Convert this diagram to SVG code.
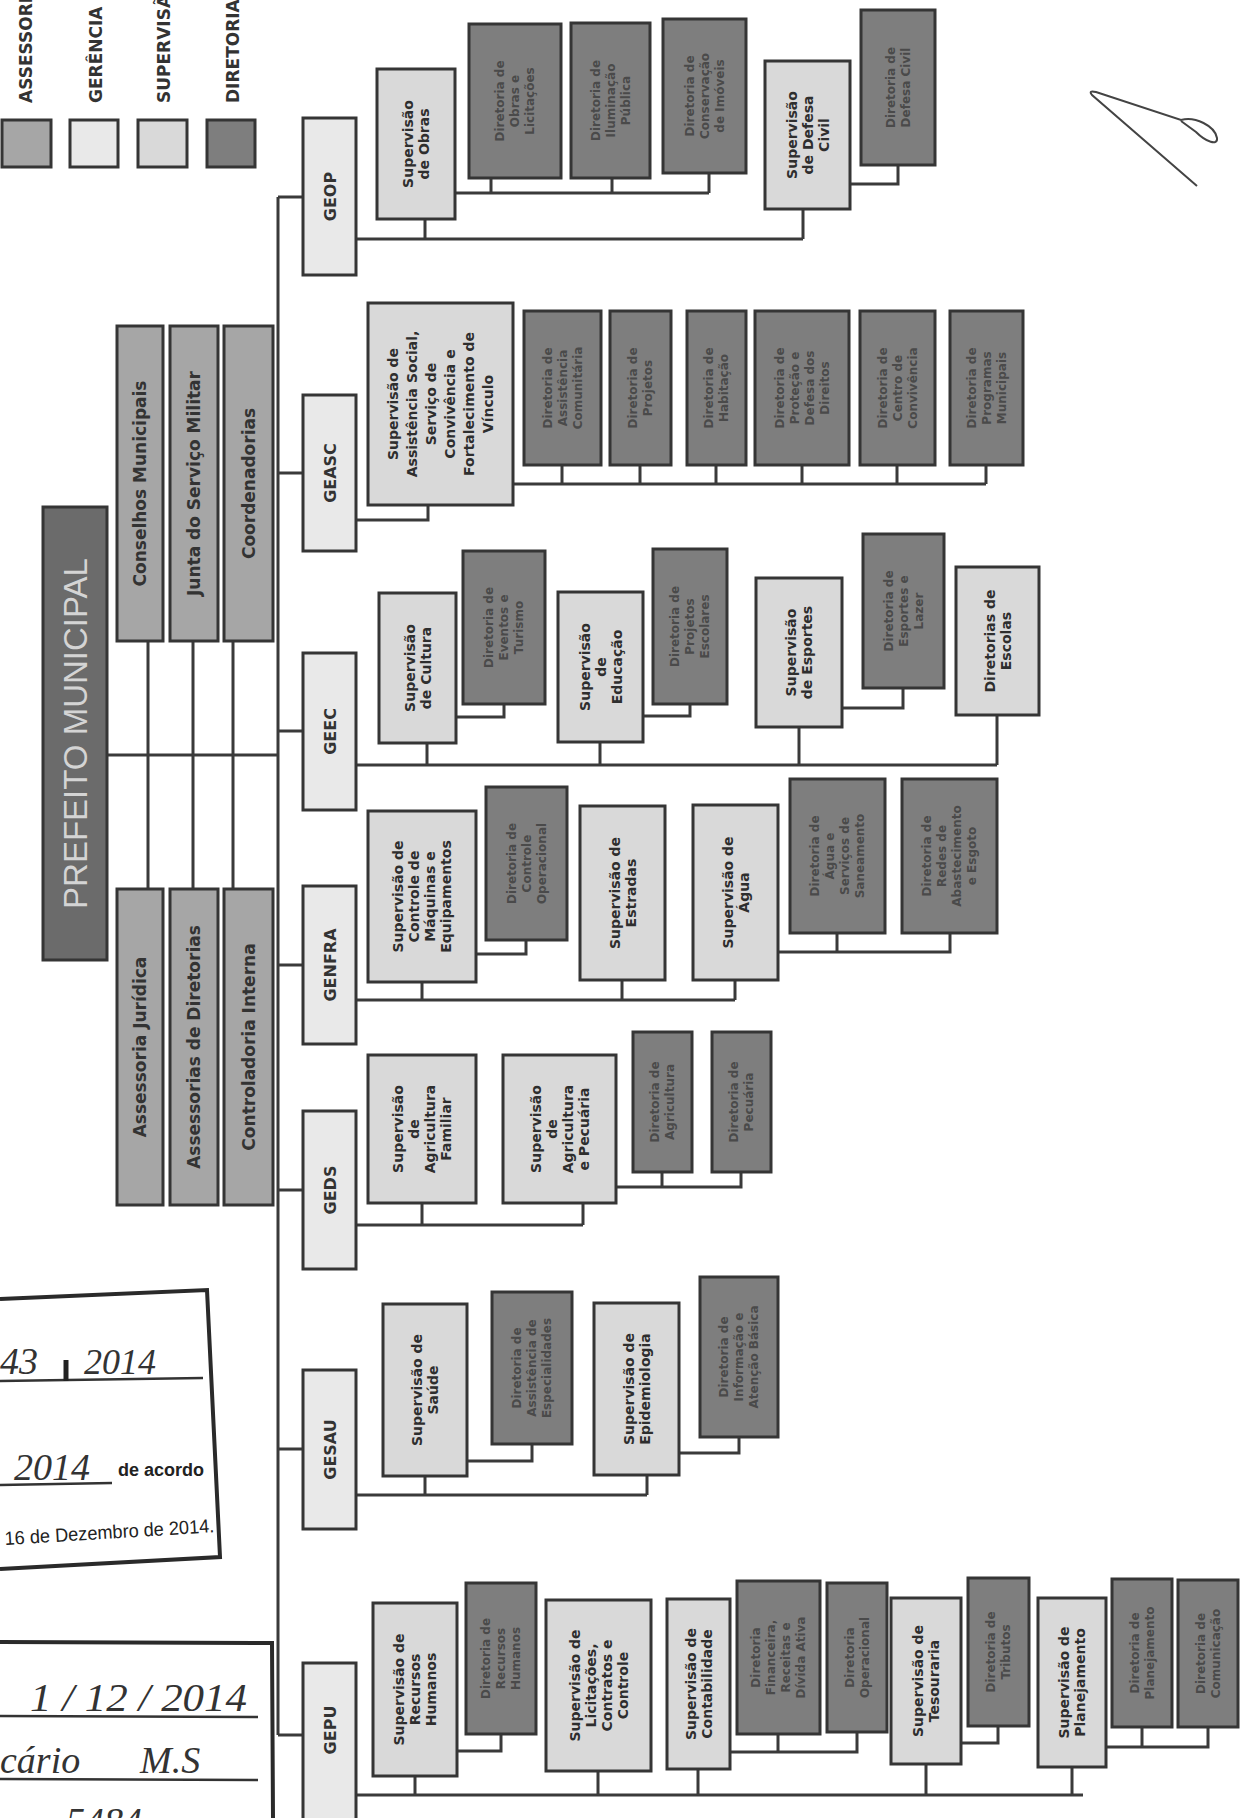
<svg xmlns="http://www.w3.org/2000/svg" width="1245" height="1818" viewBox="0 0 1245 1818">
<style>
.box{stroke:#353535;stroke-width:3}
.a{fill:#a6a6a6}.g{fill:#e9e9e9}.s{fill:#d9d9d9}.d{fill:#7e7e7e}.p{fill:#6b6b6b}
.t{font-family:"DejaVu Sans",sans-serif;font-weight:bold;text-anchor:middle}
.ts{font-size:14px;fill:#2e2e2e}
.td{font-size:12px;fill:#4a4a4a}
.ta{font-size:17px;fill:#333}
.tg{font-size:16px;fill:#333}
.lg{font-family:"DejaVu Sans",sans-serif;font-weight:bold;font-size:17px;fill:#333}
.ln{fill:none;stroke:#3a3a3a;stroke-width:3}
.st{fill:none;stroke:#2a2a2a;stroke-width:4}
.ul{fill:none;stroke:#333;stroke-width:2.5}
.hw{font-family:"Liberation Serif",serif;font-style:italic;fill:#333}
.pr{font-family:"Liberation Sans",sans-serif;font-weight:bold;fill:#222}
</style>
<rect width="1245" height="1818" fill="#fff"/>

<g id="legend">
<rect class="box a" x="2" y="120" width="49" height="47"/>
<rect class="box g" x="70" y="120" width="48" height="47"/>
<rect class="box s" x="138" y="120" width="49" height="47"/>
<rect class="box d" x="207" y="120" width="48" height="47"/>
<text class="lg" transform="translate(32,103) rotate(-90)">ASSESSORIA</text>
<text class="lg" transform="translate(102,103) rotate(-90)">GERÊNCIA</text>
<text class="lg" transform="translate(170,103) rotate(-90)">SUPERVISÃO</text>
<text class="lg" transform="translate(239,103) rotate(-90)">DIRETORIA</text>
</g>

<g id="connectors">
<path class="ln" d="M278,197 V1735 M278,197 H303 M278,473 H303 M278,731 H303 M278,965 H303 M278,1190 H303 M278,1449 H303 M278,1735 H303"/>
<path class="ln" d="M107,755 H278 M148,641 V889 M193,641 V889 M233,641 V889"/>
<path class="ln" d="M356,239 H803 M425,219 V239 M803,209 V239 M455,193 H709 M491,178 V193 M612,178 V193 M709,173 V193 M850,184 H898 V165"/>
<path class="ln" d="M356,520 H428 V505 M513,484 H986 M562,465 V484 M640,465 V484 M716,465 V484 M802,465 V484 M897,465 V484 M986,465 V484"/>
<path class="ln" d="M356,765 H997 M427,743 V765 M600,742 V765 M799,727 V765 M997,715 V765 M456,717 H504 V704 M643,716 H690 V704 M842,708 H903 V688"/>
<path class="ln" d="M356,1000 H735 M422,982 V1000 M622,980 V1000 M735,980 V1000 M476,954 H526 V940 M778,952 H950 V933 M837,933 V952"/>
<path class="ln" d="M356,1225 H583 M422,1203 V1225 M583,1203 V1225 M616,1187 H741 V1172 M662,1172 V1187"/>
<path class="ln" d="M356,1495 H647 M425,1476 V1495 M647,1475 V1495 M467,1461 H532 V1444 M679,1453 H739 V1437"/>
<path class="ln" d="M356,1795 H1083 M415,1776 V1795 M598,1771 V1795 M698,1769 V1795 M926,1764 V1795 M1072,1767 V1795 M457,1751 H501 V1734 M730,1752 H857 V1732 M778,1734 V1752 M961,1743 H998 V1726 M1106,1747 H1208 V1727 M1142,1727 V1747"/>
</g>

<g id="prefeito">
<rect class="box p" x="43" y="507" width="64" height="453"/>
<text transform="translate(75,733.5) rotate(-90)" style="font-family:'Liberation Sans',sans-serif;font-size:33px;fill:#d4d4d4;text-anchor:middle"><tspan x="0" y="12">PREFEITO MUNICIPAL</tspan></text>
</g>

<g id="conselhos"><rect class="box a" x="117" y="326" width="46" height="315"/><text class="t ta" transform="translate(140,483.5) rotate(-90)"><tspan x="0" y="6">Conselhos Municipais</tspan></text></g>
<g id="junta"><rect class="box a" x="170" y="326" width="48" height="315"/><text class="t ta" transform="translate(194,483.5) rotate(-90)"><tspan x="0" y="6">Junta do Serviço Militar</tspan></text></g>
<g id="coordenadorias"><rect class="box a" x="224" y="326" width="49" height="315"/><text class="t ta" transform="translate(248.5,483.5) rotate(-90)"><tspan x="0" y="6">Coordenadorias</tspan></text></g>
<g id="juridica"><rect class="box a" x="117" y="889" width="46" height="316"/><text class="t ta" transform="translate(140,1047) rotate(-90)"><tspan x="0" y="6">Assessoria Jurídica</tspan></text></g>
<g id="ass_diretorias"><rect class="box a" x="170" y="889" width="48" height="316"/><text class="t ta" transform="translate(194,1047) rotate(-90)"><tspan x="0" y="6">Assessorias de Diretorias</tspan></text></g>
<g id="controladoria"><rect class="box a" x="224" y="889" width="49" height="316"/><text class="t ta" transform="translate(248.5,1047) rotate(-90)"><tspan x="0" y="6">Controladoria Interna</tspan></text></g>

<g id="geop"><rect class="box g" x="303" y="118" width="53" height="157"/><text class="t tg" transform="translate(329.5,196.5) rotate(-90)"><tspan x="0" y="6">GEOP</tspan></text></g>
<g id="geasc"><rect class="box g" x="303" y="395" width="53" height="156"/><text class="t tg" transform="translate(329.5,473) rotate(-90)"><tspan x="0" y="6">GEASC</tspan></text></g>
<g id="geec"><rect class="box g" x="303" y="653" width="53" height="157"/><text class="t tg" transform="translate(329.5,731.5) rotate(-90)"><tspan x="0" y="6">GEEC</tspan></text></g>
<g id="genfra"><rect class="box g" x="303" y="886" width="53" height="158"/><text class="t tg" transform="translate(329.5,965) rotate(-90)"><tspan x="0" y="6">GENFRA</tspan></text></g>
<g id="geds"><rect class="box g" x="303" y="1111" width="53" height="158"/><text class="t tg" transform="translate(329.5,1190) rotate(-90)"><tspan x="0" y="6">GEDS</tspan></text></g>
<g id="gesau"><rect class="box g" x="303" y="1370" width="53" height="159"/><text class="t tg" transform="translate(329.5,1449.5) rotate(-90)"><tspan x="0" y="6">GESAU</tspan></text></g>
<g id="gepu"><rect class="box g" x="303" y="1663" width="53" height="165"/><text class="t tg" transform="translate(329.5,1730) rotate(-90)"><tspan x="0" y="6">GEPU</tspan></text></g>

<!-- GEOP -->
<g id="sup_obras"><rect class="box s" x="377" y="69" width="78" height="150"/><text class="t ts" transform="translate(416,144) rotate(-90)"><tspan x="0" y="-3">Supervisão</tspan><tspan x="0" y="13">de Obras</tspan></text></g>
<g id="dir_obras"><rect class="box d" x="469" y="24" width="92" height="154"/><text class="t td" transform="translate(515,101) rotate(-90)"><tspan x="0" y="-11">Diretoria de</tspan><tspan x="0" y="4">Obras e</tspan><tspan x="0" y="19">Licitações</tspan></text></g>
<g id="dir_iluminacao"><rect class="box d" x="571" y="23" width="79" height="155"/><text class="t td" transform="translate(610.5,100.5) rotate(-90)"><tspan x="0" y="-11">Diretoria de</tspan><tspan x="0" y="4">Iluminação</tspan><tspan x="0" y="19">Pública</tspan></text></g>
<g id="dir_conservacao"><rect class="box d" x="663" y="19" width="83" height="154"/><text class="t td" transform="translate(704.5,96) rotate(-90)"><tspan x="0" y="-11">Diretoria de</tspan><tspan x="0" y="4">Conservação</tspan><tspan x="0" y="19">de Imóveis</tspan></text></g>
<g id="sup_defesa"><rect class="box s" x="765" y="61" width="85" height="148"/><text class="t ts" transform="translate(807.5,135) rotate(-90)"><tspan x="0" y="-11">Supervisão</tspan><tspan x="0" y="5">de Defesa</tspan><tspan x="0" y="21">Civil</tspan></text></g>
<g id="dir_defesa"><rect class="box d" x="861" y="10" width="74" height="155"/><text class="t td" transform="translate(898,87.5) rotate(-90)"><tspan x="0" y="-3.5">Diretoria de</tspan><tspan x="0" y="11.5">Defesa Civil</tspan></text></g>

<!-- GEASC -->
<g id="sup_assistencia"><rect class="box s" x="368" y="303" width="145" height="202"/><text class="t ts" transform="translate(440.5,404) rotate(-90)"><tspan x="0" y="-42.5">Supervisão de</tspan><tspan x="0" y="-23.5">Assistência Social,</tspan><tspan x="0" y="-4.5">Serviço de</tspan><tspan x="0" y="14.5">Convivência e</tspan><tspan x="0" y="33.5">Fortalecimento de</tspan><tspan x="0" y="52.5">Vínculo</tspan></text></g>
<g id="dir_assist_com"><rect class="box d" x="524" y="311" width="77" height="154"/><text class="t td" transform="translate(562.5,388) rotate(-90)"><tspan x="0" y="-11">Diretoria de</tspan><tspan x="0" y="4">Assistência</tspan><tspan x="0" y="19">Comunitária</tspan></text></g>
<g id="dir_projetos"><rect class="box d" x="610" y="311" width="61" height="154"/><text class="t td" transform="translate(640.5,388) rotate(-90)"><tspan x="0" y="-3.5">Diretoria de</tspan><tspan x="0" y="11.5">Projetos</tspan></text></g>
<g id="dir_habitacao"><rect class="box d" x="687" y="311" width="59" height="154"/><text class="t td" transform="translate(716.5,388) rotate(-90)"><tspan x="0" y="-3.5">Diretoria de</tspan><tspan x="0" y="11.5">Habitação</tspan></text></g>
<g id="dir_protecao"><rect class="box d" x="755" y="311" width="94" height="154"/><text class="t td" transform="translate(802,388) rotate(-90)"><tspan x="0" y="-18.5">Diretoria de</tspan><tspan x="0" y="-3.5">Proteção e</tspan><tspan x="0" y="11.5">Defesa dos</tspan><tspan x="0" y="26.5">Direitos</tspan></text></g>
<g id="dir_convivencia"><rect class="box d" x="860" y="311" width="75" height="154"/><text class="t td" transform="translate(897.5,388) rotate(-90)"><tspan x="0" y="-11">Diretoria de</tspan><tspan x="0" y="4">Centro de</tspan><tspan x="0" y="19">Convivência</tspan></text></g>
<g id="dir_programas"><rect class="box d" x="950" y="311" width="73" height="154"/><text class="t td" transform="translate(986.5,388) rotate(-90)"><tspan x="0" y="-11">Diretoria de</tspan><tspan x="0" y="4">Programas</tspan><tspan x="0" y="19">Municipais</tspan></text></g>

<!-- GEEC -->
<g id="sup_cultura"><rect class="box s" x="379" y="593" width="77" height="150"/><text class="t ts" transform="translate(417.5,668) rotate(-90)"><tspan x="0" y="-3">Supervisão</tspan><tspan x="0" y="13">de Cultura</tspan></text></g>
<g id="dir_eventos"><rect class="box d" x="463" y="551" width="82" height="153"/><text class="t td" transform="translate(504,627.5) rotate(-90)"><tspan x="0" y="-11">Diretoria de</tspan><tspan x="0" y="4">Eventos e</tspan><tspan x="0" y="19">Turismo</tspan></text></g>
<g id="sup_educacao"><rect class="box s" x="558" y="592" width="85" height="150"/><text class="t ts" transform="translate(600.5,667) rotate(-90)"><tspan x="0" y="-11">Supervisão</tspan><tspan x="0" y="5">de</tspan><tspan x="0" y="21">Educação</tspan></text></g>
<g id="dir_proj_escolares"><rect class="box d" x="653" y="549" width="74" height="155"/><text class="t td" transform="translate(690,626.5) rotate(-90)"><tspan x="0" y="-11">Diretoria de</tspan><tspan x="0" y="4">Projetos</tspan><tspan x="0" y="19">Escolares</tspan></text></g>
<g id="sup_esportes"><rect class="box s" x="756" y="578" width="86" height="149"/><text class="t ts" transform="translate(799,652.5) rotate(-90)"><tspan x="0" y="-3">Supervisão</tspan><tspan x="0" y="13">de Esportes</tspan></text></g>
<g id="dir_esportes"><rect class="box d" x="863" y="534" width="81" height="154"/><text class="t td" transform="translate(903.5,611) rotate(-90)"><tspan x="0" y="-11">Diretoria de</tspan><tspan x="0" y="4">Esportes e</tspan><tspan x="0" y="19">Lazer</tspan></text></g>
<g id="dir_escolas"><rect class="box s" x="956" y="567" width="83" height="148"/><text class="t ts" transform="translate(997.5,641) rotate(-90)"><tspan x="0" y="-3">Diretorias de</tspan><tspan x="0" y="13">Escolas</tspan></text></g>

<!-- GENFRA -->
<g id="sup_maquinas"><rect class="box s" x="368" y="811" width="108" height="171"/><text class="t ts" transform="translate(422,896.5) rotate(-90)"><tspan x="0" y="-19">Supervisão de</tspan><tspan x="0" y="-3">Controle de</tspan><tspan x="0" y="13">Máquinas e</tspan><tspan x="0" y="29">Equipamentos</tspan></text></g>
<g id="dir_controle"><rect class="box d" x="486" y="787" width="81" height="153"/><text class="t td" transform="translate(526.5,863.5) rotate(-90)"><tspan x="0" y="-11">Diretoria de</tspan><tspan x="0" y="4">Controle</tspan><tspan x="0" y="19">Operacional</tspan></text></g>
<g id="sup_estradas"><rect class="box s" x="580" y="806" width="85" height="174"/><text class="t ts" transform="translate(622.5,893) rotate(-90)"><tspan x="0" y="-3">Supervisão de</tspan><tspan x="0" y="13">Estradas</tspan></text></g>
<g id="sup_agua"><rect class="box s" x="693" y="805" width="85" height="175"/><text class="t ts" transform="translate(735.5,892.5) rotate(-90)"><tspan x="0" y="-3">Supervisão de</tspan><tspan x="0" y="13">Água</tspan></text></g>
<g id="dir_agua"><rect class="box d" x="790" y="779" width="95" height="154"/><text class="t td" transform="translate(837.5,856) rotate(-90)"><tspan x="0" y="-18.5">Diretoria de</tspan><tspan x="0" y="-3.5">Água e</tspan><tspan x="0" y="11.5">Serviços de</tspan><tspan x="0" y="26.5">Saneamento</tspan></text></g>
<g id="dir_redes"><rect class="box d" x="902" y="779" width="95" height="154"/><text class="t td" transform="translate(949.5,856) rotate(-90)"><tspan x="0" y="-18.5">Diretoria de</tspan><tspan x="0" y="-3.5">Redes de</tspan><tspan x="0" y="11.5">Abastecimento</tspan><tspan x="0" y="26.5">e Esgoto</tspan></text></g>

<!-- GEDS -->
<g id="sup_agr_familiar"><rect class="box s" x="368" y="1055" width="108" height="148"/><text class="t ts" transform="translate(422,1129) rotate(-90)"><tspan x="0" y="-19">Supervisão</tspan><tspan x="0" y="-3">de</tspan><tspan x="0" y="13">Agricultura</tspan><tspan x="0" y="29">Familiar</tspan></text></g>
<g id="sup_agr_pecuaria"><rect class="box s" x="503" y="1055" width="113" height="148"/><text class="t ts" transform="translate(559.5,1129) rotate(-90)"><tspan x="0" y="-19">Supervisão</tspan><tspan x="0" y="-3">de</tspan><tspan x="0" y="13">Agricultura</tspan><tspan x="0" y="29">e Pecuária</tspan></text></g>
<g id="dir_agricultura"><rect class="box d" x="633" y="1032" width="59" height="140"/><text class="t td" transform="translate(662.5,1102) rotate(-90)"><tspan x="0" y="-3.5">Diretoria de</tspan><tspan x="0" y="11.5">Agricultura</tspan></text></g>
<g id="dir_pecuaria"><rect class="box d" x="712" y="1032" width="59" height="140"/><text class="t td" transform="translate(741.5,1102) rotate(-90)"><tspan x="0" y="-3.5">Diretoria de</tspan><tspan x="0" y="11.5">Pecuária</tspan></text></g>

<!-- GESAU -->
<g id="sup_saude"><rect class="box s" x="383" y="1304" width="84" height="172"/><text class="t ts" transform="translate(425,1390) rotate(-90)"><tspan x="0" y="-3">Supervisão de</tspan><tspan x="0" y="13">Saúde</tspan></text></g>
<g id="dir_saude"><rect class="box d" x="492" y="1292" width="80" height="152"/><text class="t td" transform="translate(532,1368) rotate(-90)"><tspan x="0" y="-11">Diretoria de</tspan><tspan x="0" y="4">Assistência de</tspan><tspan x="0" y="19">Especialidades</tspan></text></g>
<g id="sup_epidemiologia"><rect class="box s" x="594" y="1303" width="85" height="172"/><text class="t ts" transform="translate(636.5,1389) rotate(-90)"><tspan x="0" y="-3">Supervisão de</tspan><tspan x="0" y="13">Epidemiologia</tspan></text></g>
<g id="dir_atencao"><rect class="box d" x="700" y="1277" width="78" height="160"/><text class="t td" transform="translate(739,1357) rotate(-90)"><tspan x="0" y="-11">Diretoria de</tspan><tspan x="0" y="4">Informação e</tspan><tspan x="0" y="19">Atenção Básica</tspan></text></g>

<!-- GEPU -->
<g id="sup_rh"><rect class="box s" x="373" y="1603" width="84" height="173"/><text class="t ts" transform="translate(415,1689.5) rotate(-90)"><tspan x="0" y="-11">Supervisão de</tspan><tspan x="0" y="5">Recursos</tspan><tspan x="0" y="21">Humanos</tspan></text></g>
<g id="dir_rh"><rect class="box d" x="466" y="1583" width="70" height="151"/><text class="t td" transform="translate(501,1658.5) rotate(-90)"><tspan x="0" y="-11">Diretoria de</tspan><tspan x="0" y="4">Recursos</tspan><tspan x="0" y="19">Humanos</tspan></text></g>
<g id="sup_licitacoes"><rect class="box s" x="546" y="1600" width="105" height="171"/><text class="t ts" transform="translate(598.5,1685.5) rotate(-90)"><tspan x="0" y="-19">Supervisão de</tspan><tspan x="0" y="-3">Licitações,</tspan><tspan x="0" y="13">Contratos e</tspan><tspan x="0" y="29">Controle</tspan></text></g>
<g id="sup_contabilidade"><rect class="box s" x="667" y="1599" width="63" height="170"/><text class="t ts" transform="translate(698.5,1684) rotate(-90)"><tspan x="0" y="-3">Supervisão de</tspan><tspan x="0" y="13">Contabilidade</tspan></text></g>
<g id="dir_financeira"><rect class="box d" x="737" y="1581" width="83" height="153"/><text class="t td" transform="translate(778.5,1657.5) rotate(-90)"><tspan x="0" y="-18.5">Diretoria</tspan><tspan x="0" y="-3.5">Financeira,</tspan><tspan x="0" y="11.5">Receitas e</tspan><tspan x="0" y="26.5">Dívida Ativa</tspan></text></g>
<g id="dir_operacional"><rect class="box d" x="827" y="1583" width="60" height="149"/><text class="t td" transform="translate(857,1657.5) rotate(-90)"><tspan x="0" y="-3.5">Diretoria</tspan><tspan x="0" y="11.5">Operacional</tspan></text></g>
<g id="sup_tesouraria"><rect class="box s" x="891" y="1598" width="70" height="166"/><text class="t ts" transform="translate(926,1681) rotate(-90)"><tspan x="0" y="-3">Supervisão de</tspan><tspan x="0" y="13">Tesouraria</tspan></text></g>
<g id="dir_tributos"><rect class="box d" x="968" y="1578" width="61" height="148"/><text class="t td" transform="translate(998.5,1652) rotate(-90)"><tspan x="0" y="-3.5">Diretoria de</tspan><tspan x="0" y="11.5">Tributos</tspan></text></g>
<g id="sup_planejamento"><rect class="box s" x="1038" y="1598" width="68" height="169"/><text class="t ts" transform="translate(1072,1682.5) rotate(-90)"><tspan x="0" y="-3">Supervisão de</tspan><tspan x="0" y="13">Planejamento</tspan></text></g>
<g id="dir_planejamento"><rect class="box d" x="1112" y="1579" width="60" height="148"/><text class="t td" transform="translate(1142,1653) rotate(-90)"><tspan x="0" y="-3.5">Diretoria de</tspan><tspan x="0" y="11.5">Planejamento</tspan></text></g>
<g id="dir_comunicacao"><rect class="box d" x="1178" y="1580" width="60" height="147"/><text class="t td" transform="translate(1208,1653.5) rotate(-90)"><tspan x="0" y="-3.5">Diretoria de</tspan><tspan x="0" y="11.5">Comunicação</tspan></text></g>

<!-- stamps -->
<g id="stamp1">
<path class="st" d="M0,1299 L207,1290 L220,1557 L0,1569"/>
<path class="ul" d="M0,1381 L203,1378 M0,1485 L112,1483"/>
<text class="hw" x="0" y="1374" font-size="38">43</text>
<path d="M66,1360 L66,1381" stroke="#222" stroke-width="5"/>
<text class="hw" x="84" y="1374" font-size="36">2014</text>
<text class="hw" x="14" y="1480" font-size="38">2014</text>
<text class="pr" x="118" y="1476" font-size="18">de acordo</text>
<text class="pr" x="5" y="1545" font-size="19" textLength="210" lengthAdjust="spacingAndGlyphs" transform="rotate(-3.5 5 1545)" style="font-weight:normal">16 de Dezembro de 2014.</text>
</g>
<g id="stamp2">
<path class="st" d="M0,1642 L272,1643 L273,1818"/>
<path class="ul" d="M0,1716 L258,1717 M0,1779 L258,1780"/>
<text class="hw" x="30" y="1711" font-size="40" textLength="217" lengthAdjust="spacingAndGlyphs">1 / 12 / 2014</text>
<text class="hw" x="0" y="1773" font-size="38">cário</text>
<text class="hw" x="140" y="1773" font-size="38">M.S</text>
<text class="hw" x="66" y="1834" font-size="38">5484</text>
</g>
<g id="signature">
<path d="M1197,186 L1092,95 Q1088,90 1096,92 L1181,120 C1195,116 1215,126 1217,138 C1218,146 1206,142 1196,132 L1181,121" fill="none" stroke="#444" stroke-width="2"/>
</g>
</svg>
